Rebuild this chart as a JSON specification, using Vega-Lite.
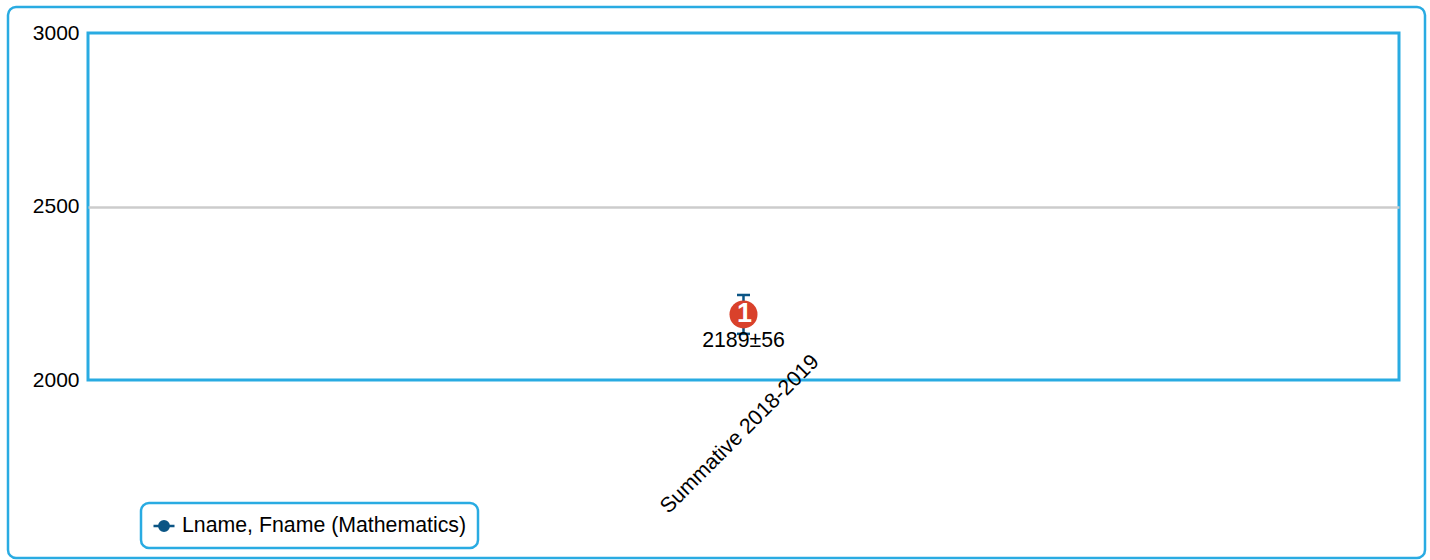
{"$schema":"https://vega.github.io/schema/vega-lite/v6.json","width":1311,"height":347,"autosize":"none","padding":{"left":88,"top":33,"right":31,"bottom":180},"background":"white","data":{"values":[{"exam":"Summative 2018-2019","score":2189,"low":2133,"high":2245,"label":"2189±56","badge":"1","series":"Lname, Fname (Mathematics)"}]},"config":{"font":"Liberation Sans","view":{"stroke":"#29abe2","strokeWidth":3}},"encoding":{"x":{"field":"exam","type":"nominal","title":null,"sort":null,"scale":{"type":"point"},"axis":{"labelAngle":-45,"labelAlign":"center","labelBaseline":"middle","labelPadding":54,"labelOffset":-4,"labelFontSize":21.3,"labelColor":"#000","ticks":false,"domain":false,"grid":false,"labelOverlap":false,"labelLimit":400}}},"layer":[{"mark":{"type":"rect","x":-80,"y":-26,"x2":1337,"y2":525,"cornerRadius":8,"fill":null,"stroke":"#29abe2","strokeWidth":2.5,"clip":false},"encoding":{"x":null}},{"mark":{"type":"rule","color":"#0b5585","strokeWidth":2.5},"encoding":{"y":{"field":"low","type":"quantitative","title":null,"scale":{"domain":[2000,3000],"nice":false},"axis":{"values":[2000,2500,3000],"format":"d","labelFontSize":21,"labelColor":"#000","labelPadding":9,"ticks":false,"domain":false,"grid":true,"gridColor":"#cccccc","gridWidth":2.5,"gridOpacity":{"condition":{"test":"datum.value===2500","value":1},"value":0}}},"y2":{"field":"high"}}},{"mark":{"type":"tick","color":"#0b5585","thickness":2.5,"size":13,"opacity":1},"encoding":{"y":{"field":"high","type":"quantitative"}}},{"mark":{"type":"tick","color":"#0b5585","thickness":2.5,"size":13,"opacity":1},"encoding":{"y":{"field":"low","type":"quantitative"}}},{"mark":{"type":"point","filled":true,"opacity":1,"size":100},"encoding":{"y":{"field":"score","type":"quantitative"},"color":{"field":"series","type":"nominal","scale":{"range":["#0b5585"]},"legend":{"title":null,"orient":"none","legendX":53,"legendY":470,"strokeColor":"#29abe2","cornerRadius":8,"padding":11,"fillColor":"white","labelFontSize":21.3,"labelOffset":6,"labelColor":"#000","labelLimit":400,"symbolSize":441,"symbolStrokeWidth":2.5,"symbolType":"M-1,0H1M0.45,0A0.45,0.45 0 1,1 -0.45,0A0.45,0.45 0 1,1 0.45,0Z","symbolFillColor":"#0b5585","symbolStrokeColor":"#0b5585","encoding":{"legend":{"strokeWidth":{"value":2.5}}}}}}},{"mark":{"type":"point","filled":true,"opacity":1,"size":784,"color":"#d9412b"},"encoding":{"y":{"field":"score","type":"quantitative"}}},{"mark":{"type":"text","color":"white","fontWeight":"bold","fontSize":27,"baseline":"middle","align":"center","dx":1},"encoding":{"y":{"field":"score","type":"quantitative"},"text":{"field":"badge"}}},{"mark":{"type":"text","color":"#000","fontSize":21.3,"baseline":"middle","align":"center","dy":27},"encoding":{"y":{"field":"score","type":"quantitative"},"text":{"field":"label"}}}]}
